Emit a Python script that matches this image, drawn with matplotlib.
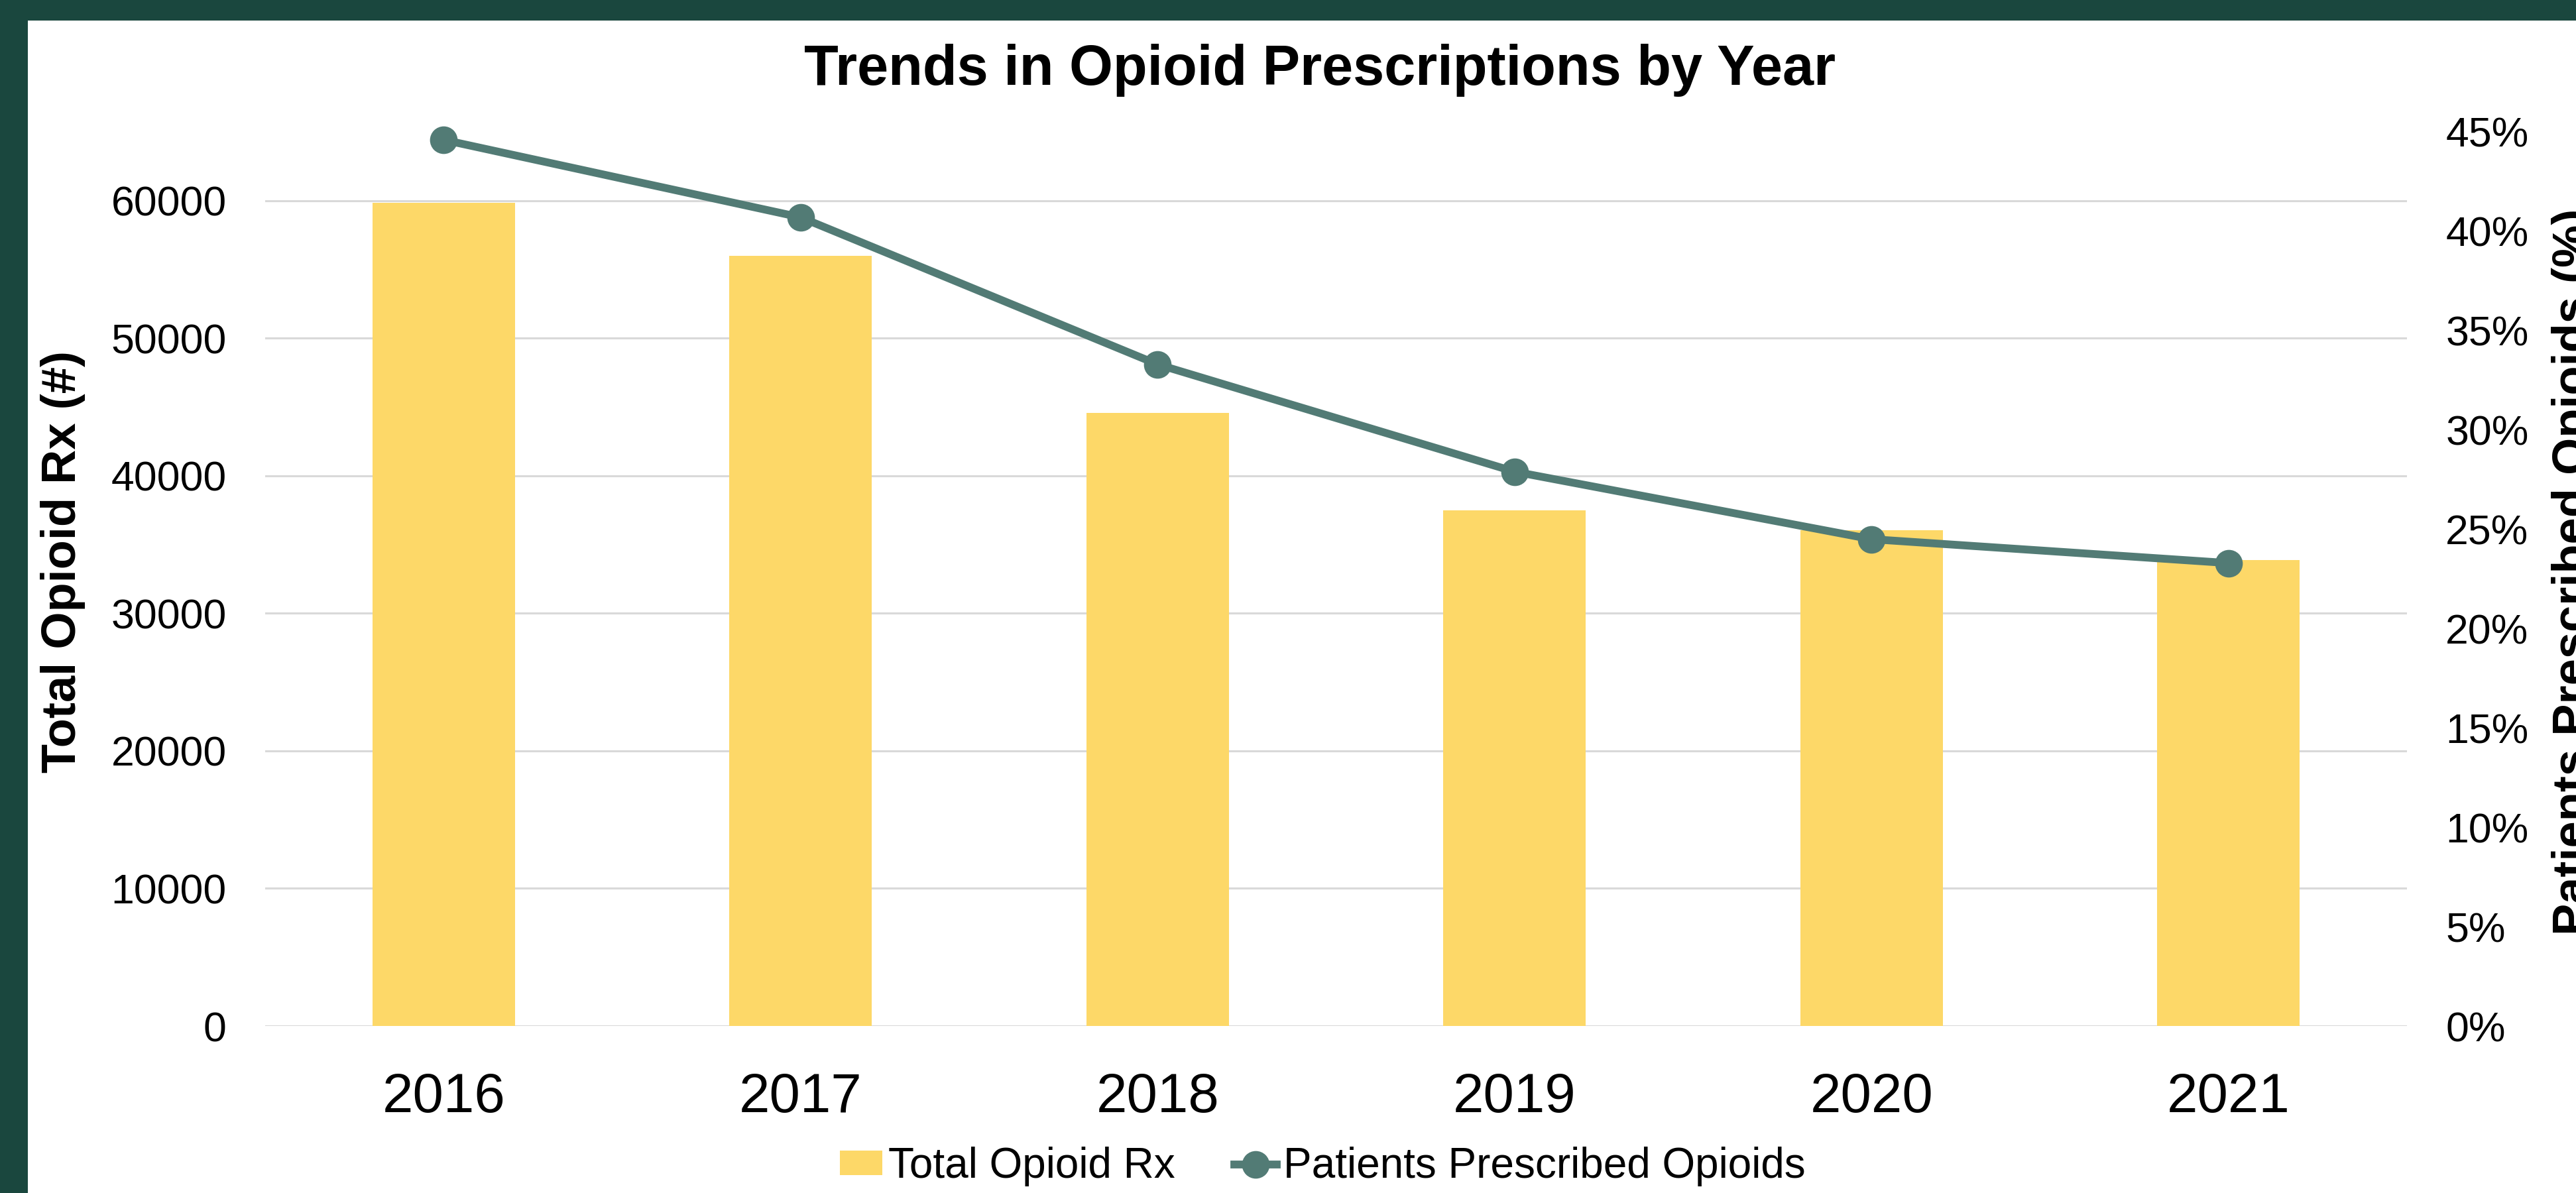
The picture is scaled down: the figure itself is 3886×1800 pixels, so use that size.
import matplotlib
matplotlib.use("Agg")
import matplotlib.pyplot as plt
from matplotlib.patches import Rectangle
from matplotlib.lines import Line2D
from matplotlib.patches import Patch

plt.rcParams['font.family'] = ['Liberation Sans', 'DejaVu Sans']

# data
years = ['2016', '2017', '2018', '2019', '2020', '2021']
total_rx = [59850, 56000, 44550, 37500, 36050, 33850]
pct_patients = [44.6, 40.7, 33.3, 27.9, 24.5, 23.3]

left_ticks = [0, 10000, 20000, 30000, 40000, 50000, 60000]
right_ticks = [0, 5, 10, 15, 20, 25, 30, 35, 40, 45]

bar_color = '#fdd868'
line_color = '#527b75'
border_color = '#1a473e'
grid_color = '#d9d9d9'

W, H = 3887, 1800
fig = plt.figure(figsize=(W / 100, H / 100), dpi=100)
fig.patch.set_facecolor(border_color)
# white panel inside the green frame
fig.add_artist(Rectangle((42 / W, 0), 1, 1 - 31 / H, transform=fig.transFigure,
                         facecolor='white', edgecolor='none', zorder=-10))

ax = fig.add_axes([400 / W, 1 - 1548 / H, (3631 - 400) / W, (1548 - 199) / H])
ax.set_facecolor('white')
x = list(range(len(years)))
ax.bar(x, total_rx, width=0.4, color=bar_color, zorder=2)
ax.set_xlim(-0.5, len(years) - 0.5)
ax.set_ylim(0, 65000)
ax.set_yticks(left_ticks)
ax.set_yticklabels([str(v) for v in left_ticks])
ax.set_xticks(x)
ax.set_xticklabels(years)
ax.yaxis.grid(True, color=grid_color, linewidth=2.2, zorder=0)
ax.set_axisbelow(True)
for s in ax.spines.values():
    s.set_visible(False)
ax.tick_params(axis='y', length=0, pad=42, labelsize=45)
ax.tick_params(axis='x', length=0, pad=50, labelsize=60)

ax2 = ax.twinx()
ax2.plot(x, pct_patients, color=line_color, linewidth=8.5, marker='o',
         markersize=29, zorder=3, clip_on=False)
ax2.set_ylim(0, 45)
ax2.set_yticks(right_ticks)
ax2.set_yticklabels([f"{v}%" for v in right_ticks])
for s in ax2.spines.values():
    s.set_visible(False)
ax2.tick_params(axis='y', length=0, pad=42, labelsize=45)

fig.text(1991 / W, 1 - 128 / H, 'Trends in Opioid Prescriptions by Year',
         ha='center', va='baseline', fontsize=61, fontweight='bold')
fig.text(95 / W, 1 - 848 / H, 'Total Opioid Rx (#)', rotation=90,
         ha='center', va='center', fontsize=52, fontweight='bold')
# the right-hand label runs off the edge of the figure, as in the original
fig.text(3849 / W, 1 - 863 / H, 'Patients Prescribed Opioids (%)', rotation=90,
         ha='left', va='center', fontsize=52, fontweight='bold')

handles = [Patch(facecolor=bar_color, edgecolor='none'),
           Line2D([0], [0], color=line_color, linewidth=8.5, marker='o', markersize=29)]
fig.legend(handles, ['Total Opioid Rx', 'Patients Prescribed Opioids'],
           loc='center', bbox_to_anchor=(1995 / W, 1 - 1760 / H), ncol=2,
           frameon=False, fontsize=46, handlelength=1.0, handleheight=0.5,
           handletextpad=0.15, columnspacing=1.4, borderpad=0)

fig.savefig('out.png', dpi=100, facecolor=fig.get_facecolor())
